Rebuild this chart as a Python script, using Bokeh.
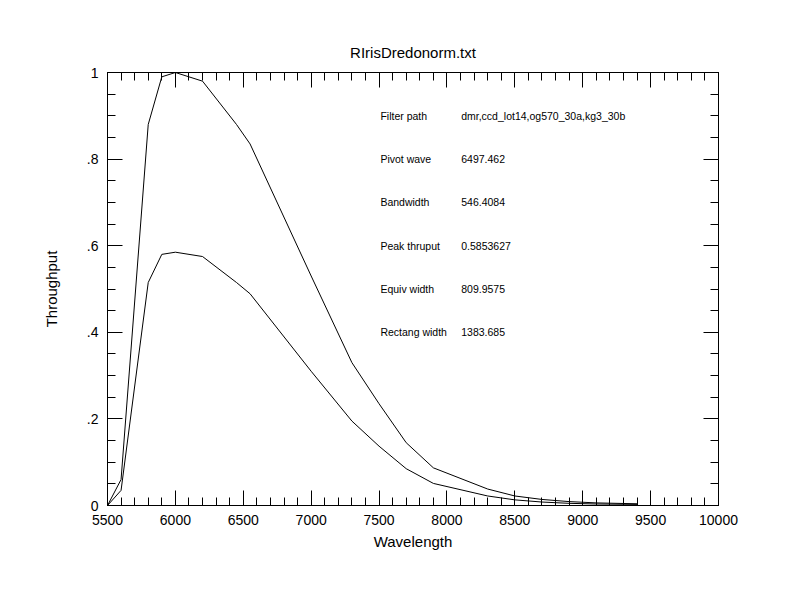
from bokeh.plotting import figure
from bokeh.models import LinearAxis, ColumnDataSource, Range1d, SingleIntervalTicker, CustomJSTickFormatter
from bokeh.core.properties import value
from bokeh.embed import file_html
from bokeh.resources import INLINE

# Data
wavelength = [5500, 5600, 5800, 5900, 6000, 6200, 6450, 6550, 7000, 7300,
              7500, 7700, 7900, 8300, 8500, 8700, 8900, 9100, 9400]
throughput_norm = [0.0, 0.06, 0.88, 0.99, 1.0, 0.98, 0.88, 0.835, 0.53, 0.33,
                   0.235, 0.145, 0.087, 0.038, 0.022, 0.014, 0.009, 0.006, 0.004]
throughput = [0.0, 0.035, 0.515, 0.58, 0.585, 0.575, 0.515, 0.489, 0.31, 0.195,
              0.137, 0.085, 0.051, 0.022, 0.013, 0.008, 0.005, 0.0035, 0.0025]

info_labels = ["Filter path", "Pivot wave", "Bandwidth", "Peak thruput",
               "Equiv width", "Rectang width"]
info_values = ["dmr,ccd_lot14,og570_30a,kg3_30b", "6497.462", "546.4084",
               "0.5853627", "809.9575", "1383.685"]
info_y = [0.9, 0.8, 0.7, 0.6, 0.5, 0.4]

FONT = "Liberation Sans"

p = figure(frame_width=611, frame_height=433,
           min_border_left=107, min_border_right=66,
           min_border_top=72, min_border_bottom=99,
           x_range=Range1d(5500, 10000), y_range=Range1d(0, 1),
           output_backend="svg", toolbar_location=None,
           x_axis_location=None, y_axis_location=None,
           title="RIrisDredonorm.txt")
p.title.align = "center"
p.title.text_font = FONT
p.title.text_font_size = "15px"
p.title.text_font_style = "normal"
p.title.text_color = "black"
p.title.standoff = 23
p.grid.visible = False
p.outline_line_color = "black"
p.outline_line_width = 1
p.background_fill_color = "white"
p.border_fill_color = "white"

blank = CustomJSTickFormatter(code="return '';")
yfmt = CustomJSTickFormatter(code="""
if (Math.abs(tick) < 1e-9) return '0';
if (Math.abs(tick - 1) < 1e-9) return '1';
return tick.toFixed(1).replace(/^0/, '');
""")


def style_axis(ax, ticker_int, minor, show_labels):
    ax.ticker = SingleIntervalTicker(interval=ticker_int, num_minor_ticks=minor)
    ax.major_tick_in = 15
    ax.major_tick_out = 0
    ax.minor_tick_in = 8
    ax.minor_tick_out = 0
    ax.axis_line_color = "black"
    ax.major_tick_line_color = "black"
    ax.minor_tick_line_color = "black"
    ax.major_label_text_font = FONT
    ax.major_label_text_color = "black"
    ax.major_label_text_font_size = "14px"
    ax.axis_label_text_font = FONT
    ax.axis_label_text_font_style = "normal"
    ax.axis_label_text_color = "black"
    if not show_labels:
        ax.formatter = blank
        ax.major_label_standoff = 0


xb = LinearAxis(axis_label="Wavelength")
style_axis(xb, 500, 5, True)
xb.major_label_standoff = 9
xb.axis_label_text_font_size = "15px"
xb.axis_label_standoff = 5
p.add_layout(xb, "below")

xt = LinearAxis()
style_axis(xt, 500, 5, False)
p.add_layout(xt, "above")

yl = LinearAxis(axis_label="Throughput")
style_axis(yl, 0.2, 4, True)
yl.formatter = yfmt
yl.major_label_standoff = 9
yl.axis_label_text_font_size = "15px"
yl.axis_label_standoff = 24
p.add_layout(yl, "left")

yr = LinearAxis()
style_axis(yr, 0.2, 4, False)
p.add_layout(yr, "right")

src = ColumnDataSource(dict(x=wavelength, yn=throughput_norm, y=throughput))
p.line("x", "yn", source=src, line_color="black", line_width=1)
p.line("x", "y", source=src, line_color="black", line_width=1)

lab_src = ColumnDataSource(dict(x=[7510] * len(info_labels), x2=[8105] * len(info_labels),
                                y=info_y, lab=info_labels, val=info_values))
p.text("x", "y", text="lab", source=lab_src, text_font=value(FONT),
       text_font_size="10.5px", text_baseline="middle", text_align="left",
       text_color="black")
p.text("x2", "y", text="val", source=lab_src, text_font=value(FONT),
       text_font_size="10.5px", text_baseline="middle", text_align="left",
       text_color="black")

open("out.html", "w").write(file_html(p, INLINE))
